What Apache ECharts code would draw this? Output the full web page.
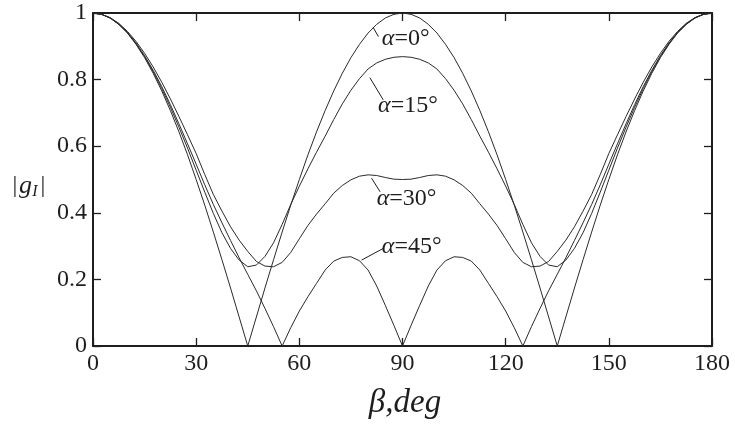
<!DOCTYPE html>
<html>
<head>
<meta charset="utf-8">
<script src="https://cdn.jsdelivr.net/npm/echarts@6/dist/echarts.min.js"></script>
<style>
html,body{margin:0;padding:0;background:#fff;}
#c{width:735px;height:432px;}
</style>
</head>
<body>
<div id="c"></div>
<script>
// beta (deg)
var beta = [0,2.5,5,7.5,10,12.5,15,17.5,20,22.5,25,27.5,30,32.5,35,37.5,40,42.5,45,47.5,50,52.5,55,57.5,60,62.5,65,67.5,70,72.5,75,77.5,80,82.5,85,87.5,90,92.5,95,97.5,100,102.5,105,107.5,110,112.5,115,117.5,120,122.5,125,127.5,130,132.5,135,137.5,140,142.5,145,147.5,150,152.5,155,157.5,160,162.5,165,167.5,170,172.5,175,177.5,180];

var g_a0 = [1.000,0.996,0.985,0.966,0.940,0.906,0.866,0.819,0.766,0.707,0.643,0.574,0.500,0.423,0.342,0.259,0.174,0.087,0.000,0.087,0.174,0.259,0.342,0.423,0.500,0.574,0.643,0.707,0.766,0.819,0.866,0.906,0.940,0.966,0.985,0.996,1.000,
0.996,0.985,0.966,0.940,0.906,0.866,0.819,0.766,0.707,0.643,0.574,0.500,0.423,0.342,0.259,0.174,0.087,0.000,0.087,0.174,0.259,0.342,0.423,0.500,0.574,0.643,0.707,0.766,0.819,0.866,0.906,0.940,0.966,0.985,0.996,1.000];

var g_a15 = [1.000,0.996,0.985,0.966,0.941,0.908,0.869,0.824,0.773,0.717,0.657,0.594,0.528,0.462,0.398,0.340,0.293,0.258,0.238,0.243,0.269,0.310,0.365,0.425,0.480,0.532,0.582,0.630,0.680,0.727,0.768,0.803,0.832,0.850,0.861,0.867,0.869,
0.867,0.861,0.850,0.832,0.803,0.768,0.727,0.680,0.630,0.582,0.532,0.480,0.425,0.365,0.310,0.269,0.243,0.238,0.258,0.293,0.340,0.398,0.462,0.528,0.594,0.657,0.717,0.773,0.824,0.869,0.908,0.941,0.966,0.985,0.996,1.000];

var g_a30 = [1.000,0.996,0.986,0.969,0.945,0.915,0.879,0.838,0.792,0.742,0.689,0.634,0.578,0.515,0.455,0.405,0.358,0.318,0.284,0.254,0.240,0.238,0.251,0.281,0.322,0.362,0.396,0.427,0.459,0.482,0.499,0.510,0.514,0.512,0.506,0.501,0.500,
0.501,0.506,0.512,0.514,0.510,0.499,0.482,0.459,0.427,0.396,0.362,0.322,0.281,0.251,0.238,0.240,0.254,0.284,0.318,0.358,0.405,0.455,0.515,0.578,0.634,0.689,0.742,0.792,0.838,0.879,0.915,0.945,0.969,0.986,0.996,1.000];

var g_a45 = [1.000,0.996,0.985,0.967,0.942,0.910,0.872,0.828,0.779,0.725,0.667,0.607,0.546,0.484,0.425,0.370,0.317,0.265,0.215,0.166,0.113,0.058,0.000,0.055,0.105,0.148,0.188,0.228,0.255,0.266,0.268,0.256,0.228,0.180,0.122,0.062,0.000,
0.062,0.122,0.180,0.228,0.256,0.268,0.266,0.255,0.228,0.188,0.148,0.105,0.055,0.000,0.058,0.113,0.166,0.215,0.265,0.317,0.370,0.425,0.484,0.546,0.607,0.667,0.725,0.779,0.828,0.872,0.910,0.942,0.967,0.985,0.996,1.000];

var xTicks = [0,30,60,90,120,150,180];
var yTicks = [0,0.2,0.4,0.6,0.8,1];
var curveNames = ['α=0°','α=15°','α=30°','α=45°'];
var curveLabels = ['0','15','30','45'];

var FONT = '"Liberation Serif", "Times New Roman", Times, serif';
var INK = '#1e1e1e';

var chart = echarts.init(document.getElementById('c'), null, {renderer:'canvas'});

function pairs(v){ return beta.map(function(b,i){ return [b, v[i]]; }); }

function axisCommon(show){
  return {
    axisLine:{show:true, onZero:false, lineStyle:{color:INK, width:2}},
    axisTick:{show:true, inside:true, length:8, lineStyle:{color:INK, width:1.3}},
    splitLine:{show:false},
    axisLabel:{show:show, fontFamily:FONT, fontSize:24, color:INK, margin:6}
  };
}

var xb = Object.assign({type:'value', min:xTicks[0], max:xTicks[xTicks.length-1], interval:30, position:'bottom'}, axisCommon(true));
var xt = Object.assign({type:'value', min:xTicks[0], max:xTicks[xTicks.length-1], interval:30, position:'top'}, axisCommon(false));
var yl = Object.assign({type:'value', min:yTicks[0], max:yTicks[yTicks.length-1], interval:0.2, position:'left'}, axisCommon(true));
var yr = Object.assign({type:'value', min:yTicks[0], max:yTicks[yTicks.length-1], interval:0.2, position:'right'}, axisCommon(false));

var data = [g_a0, g_a15, g_a30, g_a45];
var series = data.map(function(v,k){
  return {
    name: curveNames[k], type:'line', xAxisIndex:0, yAxisIndex:0,
    data: pairs(v), showSymbol:false, symbol:'none', smooth:false,
    lineStyle:{color:'#2a2a2a', width:1}, z:3
  };
});

chart.setOption({
  animation:false,
  backgroundColor:'#fff',
  grid:{left:93, right:23, top:13, bottom:86, containLabel:false},
  xAxis:[xb, xt],
  yAxis:[yl, yr],
  series: series
});

// annotation anchors in data coordinates [beta, |g|]
var annLineStart = [[81.5,0.956],[80.5,0.806],[81.0,0.504],[78.1,0.258]];
var annLineEnd   = [[83.0,0.929],[84.4,0.739],[83.5,0.463],[84.4,0.293]];
var annText      = [[84.0,0.922],[82.9,0.721],[82.5,0.443],[84.0,0.299]];

var gr = [];
for (var k=0;k<4;k++){
  var p1 = chart.convertToPixel({gridIndex:0}, annLineStart[k]);
  var p2 = chart.convertToPixel({gridIndex:0}, annLineEnd[k]);
  var pt = chart.convertToPixel({gridIndex:0}, annText[k]);
  gr.push({type:'line', shape:{x1:p1[0],y1:p1[1],x2:p2[0],y2:p2[1]}, style:{stroke:INK, lineWidth:1}, z:10});
  gr.push({type:'text', x:pt[0], y:pt[1], z:10, style:{
    text:'{a|α}=' + curveLabels[k] + '°',
    fontFamily:FONT, fontSize:24, fill:INK, align:'left', verticalAlign:'middle',
    rich:{a:{fontFamily:FONT, fontSize:24, fontStyle:'italic', fill:INK}}
  }});
}
// y axis title |g_I|
gr.push({type:'text', x:15, y:186, style:{text:'|', fontFamily:FONT, fontSize:24, fill:INK, align:'center', verticalAlign:'middle'}});
gr.push({type:'text', x:25.5, y:186, style:{text:'g', fontFamily:FONT, fontSize:26, fontStyle:'italic', fill:INK, align:'center', verticalAlign:'middle'}});
gr.push({type:'text', x:35, y:192, style:{text:'I', fontFamily:FONT, fontSize:16, fontStyle:'italic', fill:INK, align:'center', verticalAlign:'middle'}});
gr.push({type:'text', x:43, y:186, style:{text:'|', fontFamily:FONT, fontSize:24, fill:INK, align:'center', verticalAlign:'middle'}});
// x axis title
gr.push({type:'text', x:405, y:403, style:{text:'β,deg', fontFamily:FONT, fontSize:33, fontStyle:'italic', fill:INK, align:'center', verticalAlign:'middle'}});

chart.setOption({graphic: gr});
</script>
</body>
</html>
